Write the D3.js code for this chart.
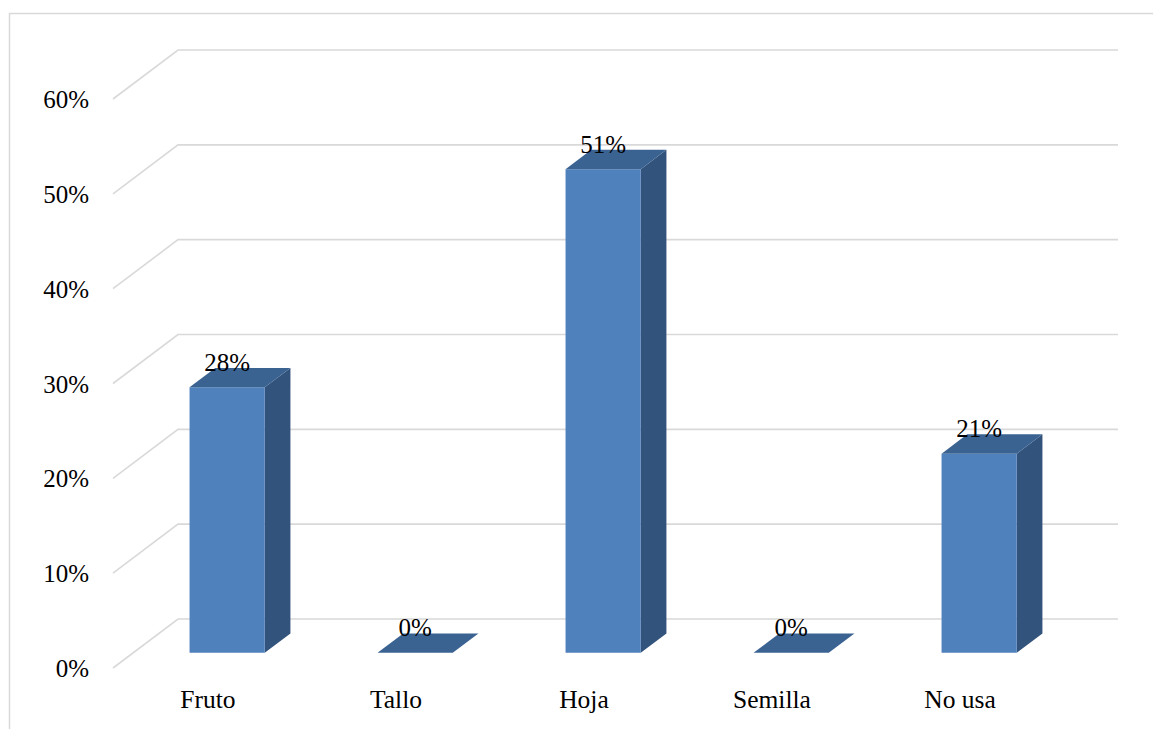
<!DOCTYPE html>
<html>
<head>
<meta charset="utf-8">
<script src="https://cdn.jsdelivr.net/npm/d3@7"></script>
<style>
  html, body { margin: 0; padding: 0; background: #fff; }
  svg { display: block; }
</style>
</head>
<body>
<svg id="chart" width="1153" height="729"></svg>
<script>
const categories = ["Fruto", "Tallo", "Hoja", "Semilla", "No usa"];
const values = [28, 0, 51, 0, 21];
const tickValues = [0, 10, 20, 30, 40, 50, 60];
const tickLabels = ["0%", "10%", "20%", "30%", "40%", "50%", "60%"];
const valueLabels = ["28%", "0%", "51%", "0%", "21%"];

const FONT = "'Liberation Serif', 'Times New Roman', Times, serif";
const svg = d3.select("#chart");

// 3D projection: depth offsets
const DX = 65, DY = -49;
const z0 = 0.31, z1 = 0.705;

const x = d3.scaleBand().domain(categories).range([113, 1053]).paddingInner(0.6).paddingOuter(0.3);
const y = d3.scaleLinear().domain([0, 60]).range([668, 99]);

// outer border
svg.append("rect").attr("x", 9.5).attr("y", 13.5).attr("width", 1160).attr("height", 730)
  .attr("fill", "none").attr("stroke", "#d9d9d9").attr("stroke-width", 1.5);

// gridlines (side wall diagonal + back wall)
const grid = svg.append("g");
tickValues.forEach(t => {
  const yf = y(t), yb = y(t) + DY;
  grid.append("path")
    .attr("d", `M${113},${yf}L${113 + DX},${yb}L${1118},${yb}`)
    .attr("fill", "none").attr("stroke", "#d9d9d9").attr("stroke-width", 1.6);
});

// y tick labels
svg.append("g").selectAll("text").data(tickValues).join("text")
  .attr("x", 89).attr("y", d => y(d) + 9)
  .attr("text-anchor", "end").attr("font-size", 25)
  .attr("font-family", FONT).attr("fill", "#000")
  .text((d, i) => tickLabels[i]);

// bars
const bars = svg.append("g");
categories.forEach((c, i) => {
  const v = values[i];
  const xl = x(c), xr = x(c) + x.bandwidth();
  const yb = y(0), yt = y(v);
  const p = (xx, yy, z) => [xx + DX * z, yy + DY * z];
  const g = bars.append("g");
  const side = [p(xr, yb, z0), p(xr, yb, z1), p(xr, yt, z1), p(xr, yt, z0)];
  g.append("polygon").attr("points", side.map(q => q.join(",")).join(" "))
    .attr("fill", "#32537b");
  const front = [p(xl, yb, z0), p(xr, yb, z0), p(xr, yt, z0), p(xl, yt, z0)];
  g.append("polygon").attr("points", front.map(q => q.join(",")).join(" "))
    .attr("fill", "#4f81bd");
  const top = [p(xl, yt, z0), p(xr, yt, z0), p(xr, yt, z1), p(xl, yt, z1)];
  g.append("polygon").attr("points", top.map(q => q.join(",")).join(" "))
    .attr("fill", "#3b6392");
  g.append("text")
    .attr("x", x(c) + x.bandwidth() / 2 + DX * z0)
    .attr("y", yt + DY * z1 + 3)
    .attr("text-anchor", "middle").attr("font-size", 25)
    .attr("font-family", FONT).attr("fill", "#000")
    .text(valueLabels[i]);
});

// category labels
svg.append("g").selectAll("text").data(categories).join("text")
  .attr("x", d => x(d) + x.bandwidth() / 2 + 1)
  .attr("y", 708)
  .attr("text-anchor", "middle").attr("font-size", 25.5)
  .attr("font-family", FONT).attr("fill", "#000")
  .text(d => d);
</script>
</body>
</html>
